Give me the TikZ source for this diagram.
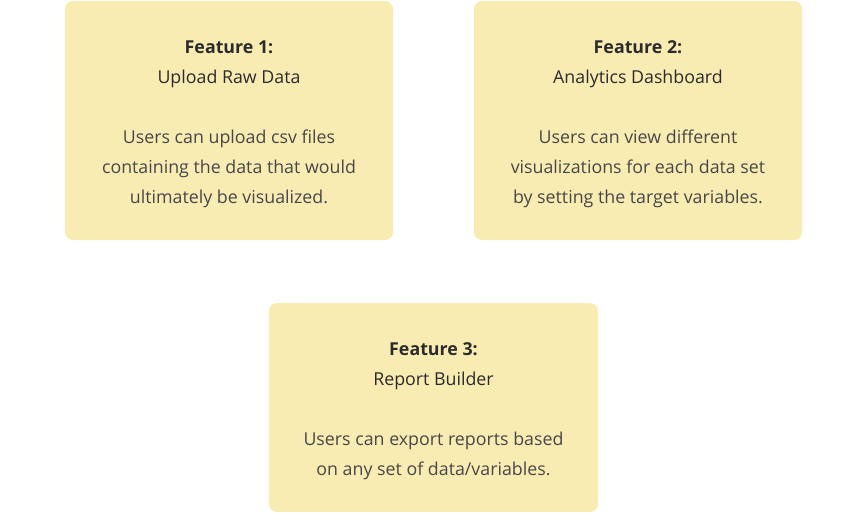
\documentclass[tikz,border=0pt]{standalone}
\usepackage{fontspec}
\setmainfont{Open Sans}
\definecolor{boxfill}{HTML}{F9ECB3}
\definecolor{bodytext}{HTML}{474747}
\definecolor{headtext}{HTML}{2B2B2B}
\tikzset{
  featurebox/.style={fill=boxfill, rounded corners=8pt},
  featuretext/.style={align=center, text=bodytext, font=\fontsize{17.8}{30}\selectfont}
}
\newcommand{\feathead}[1]{\textcolor{headtext}{\textbf{#1}}}
\begin{document}
\begin{tikzpicture}[x=1pt,y=-1pt]
			\fill[white] (0,0) rectangle (868,514);
			\useasboundingbox (0,0) rectangle (868,514);
			\fill[featurebox] (65,1) rectangle (393,240);
			\fill[featurebox] (474,1) rectangle (802,240);
			\fill[featurebox] (269,303) rectangle (598,512);
			\node[featuretext] (upload) at (229,124) {\feathead{Feature 1:}\\\textcolor{headtext}{Upload Raw Data}\\[30pt]Users can upload csv files\\containing the data that would\\ultimately be visualized.};
			\node[featuretext] (dashboard) at (638,124) {\feathead{Feature 2:}\\\textcolor{headtext}{Analytics Dashboard}\\[30pt]Users can view different\\visualizations for each data set\\by setting the target variables.};
			\node[featuretext] (report) at (433.5,411) {\feathead{Feature 3:}\\\textcolor{headtext}{Report Builder}\\[30pt]Users can export reports based\\on any set of data/variables.};
		\end{tikzpicture}
\end{document}
